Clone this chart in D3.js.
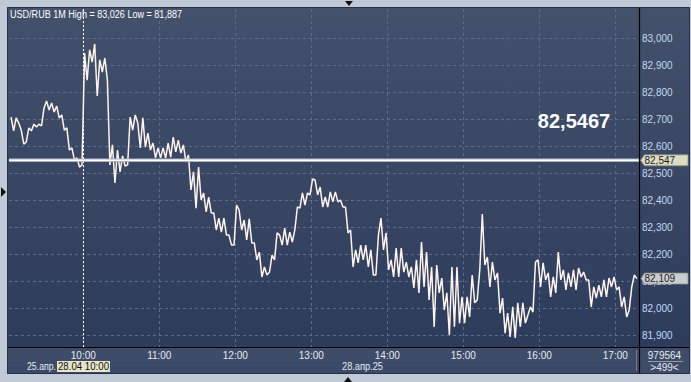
<!DOCTYPE html>
<html><head><meta charset="utf-8">
<script src="https://cdn.jsdelivr.net/npm/d3@7"></script>
<style>html,body{margin:0;padding:0;background:#c0cad6;overflow:hidden}</style>
</head><body><svg id="c" width="691" height="382"></svg>
<script>
// ---------- data ----------
const symbol = "USD/RUB";
const period = "1M";
const highValue = 83.026;
const lowValue = 81.887;
const bigPrice = 82.5467;
const markerPrice = 82.547;
const currentPrice = 82.109;
const sessionDate = "2025-04-28";
const startTime = "09:03";
const stepMinutes = 2;
const closes = [
  82.707, 82.656, 82.704, 82.685, 82.659, 82.607, 82.615, 82.667, 82.656, 82.681,
  82.670, 82.681, 82.674, 82.741, 82.767, 82.733, 82.759, 82.726, 82.748, 82.704,
  82.715, 82.659, 82.667, 82.585, 82.593, 82.548, 82.556, 82.522, 82.530, 82.944,
  82.844, 82.956, 82.911, 82.978, 82.785, 82.919, 82.874, 82.926, 82.844, 82.530,
  82.604, 82.463, 82.585, 82.504, 82.563, 82.526, 82.530, 82.707, 82.659, 82.715,
  82.685, 82.593, 82.704, 82.596, 82.648, 82.585, 82.611, 82.556, 82.593, 82.556,
  82.593, 82.556, 82.611, 82.559, 82.633, 82.578, 82.622, 82.574, 82.604, 82.541,
  82.567, 82.437, 82.504, 82.370, 82.522, 82.400, 82.426, 82.356, 82.411, 82.352,
  82.352, 82.289, 82.333, 82.281, 82.333, 82.270, 82.270, 82.233, 82.233, 82.381,
  82.363, 82.289, 82.326, 82.252, 82.330, 82.241, 82.241, 82.178, 82.207, 82.115,
  82.152, 82.122, 82.133, 82.196, 82.178, 82.278, 82.270, 82.233, 82.296, 82.233,
  82.281, 82.244, 82.289, 82.374, 82.370, 82.426, 82.381, 82.426, 82.419, 82.478,
  82.474, 82.419, 82.448, 82.374, 82.411, 82.374, 82.430, 82.393, 82.430, 82.393,
  82.400, 82.374, 82.374, 82.278, 82.289, 82.152, 82.215, 82.167, 82.233, 82.178,
  82.233, 82.152, 82.215, 82.122, 82.122, 82.270, 82.333, 82.215, 82.278, 82.141,
  82.178, 82.115, 82.222, 82.115, 82.222, 82.133, 82.170, 82.115, 82.152, 82.074,
  82.178, 82.056, 82.244, 82.078, 82.207, 82.030, 82.152, 81.930, 82.159, 82.056,
  82.111, 81.993, 82.056, 81.900, 82.152, 81.930, 82.152, 81.944, 82.041, 81.944,
  82.041, 81.967, 82.122, 82.019, 82.030, 82.141, 82.348, 82.159, 82.189, 82.078,
  82.170, 82.104, 82.130, 81.981, 82.037, 81.907, 81.981, 81.893, 82.004, 81.889,
  82.019, 81.930, 82.019, 81.944, 81.974, 82.004, 81.985, 82.170, 82.178, 82.078,
  82.167, 82.104, 82.130, 82.041, 82.115, 82.056, 82.207, 82.104, 82.141, 82.067,
  82.130, 82.078, 82.141, 82.067, 82.148, 82.115, 82.133, 82.104, 82.104, 82.004,
  82.078, 82.037, 82.085, 82.041, 82.104, 82.041, 82.111, 82.078, 82.115, 82.067,
  82.078, 82.004, 82.041, 81.967, 81.993, 82.078, 82.122, 82.109
];
const yTicks = [83.0, 82.9, 82.8, 82.7, 82.6, 82.5, 82.4, 82.3, 82.2, 82.1, 82.0, 81.9];
const xTicks = ["10:00", "11:00", "12:00", "13:00", "14:00", "15:00", "16:00", "17:00"];
const crosshairTime = "10:00";
const crosshairLabel = "28.04 10:00";
const prevDateLabel = "25.апр.";
const dateLabel = "28.апр.25";
const counterTop = "979564";
const counterBottom = ">499<";

// ---------- layout ----------
const W = 691, H = 382;
const P = {l: 9, r: 639, t: 9, b: 347};
const font = "'Liberation Sans', Arial, sans-serif";
const FS = 10;
const loc = d3.formatLocale({decimal: ",", thousands: " ", grouping: [3], currency: ["", ""]});
const f3 = loc.format(".3f"), f4 = loc.format(".4f");
const parse = d3.timeParse("%Y-%m-%d %H:%M");

const svg = d3.select("#c");
const defs = svg.append("defs");
const g = defs.append("linearGradient").attr("id", "bg").attr("x1", 0).attr("x2", 0).attr("y1", 0).attr("y2", 1);
g.append("stop").attr("offset", "0%").attr("stop-color", "#44516b");
g.append("stop").attr("offset", "100%").attr("stop-color", "#2c3a5b");
defs.append("clipPath").attr("id", "clip").append("rect")
  .attr("x", P.l).attr("y", P.t).attr("width", P.r - P.l).attr("height", P.b - P.t);

svg.append("rect").attr("width", W).attr("height", H).attr("fill", "#c0cad6");
// panel
svg.append("rect").attr("x", 7.5).attr("y", 7.5).attr("width", 682).attr("height", 366)
  .attr("fill", "url(#bg)").attr("stroke", "#27324a");
// bottom axis area
svg.append("rect").attr("x", 8).attr("y", 347).attr("width", 681).attr("height", 26).attr("fill", "#3e4c68");
svg.append("rect").attr("x", 8).attr("y", 361).attr("width", 631).attr("height", 12).attr("fill", "#3b4a69");

// scales
const x = d3.scaleTime()
  .domain([parse(sessionDate + " 10:00"), parse(sessionDate + " 17:00")])
  .range([83.3, 615.3]);
const y = d3.scaleLinear().domain([81.9, 83.0]).range([335, 38]);

// grid
const grid = svg.append("g").attr("stroke", "#5d6c8a").attr("stroke-dasharray", "3,3").attr("stroke-width", 1);
yTicks.forEach(v => {
  const yy = Math.round(y(v)) + 0.5;
  grid.append("line").attr("x1", P.l).attr("x2", P.r).attr("y1", yy).attr("y2", yy);
});
xTicks.forEach(t => {
  const xx = Math.round(x(parse(sessionDate + " " + t))) + 0.5;
  grid.append("line").attr("x1", xx).attr("x2", xx).attr("y1", P.t).attr("y2", P.b);
});

// crosshair
const cx = Math.round(x(parse(sessionDate + " " + crosshairTime))) + 0.5;
svg.append("line").attr("x1", cx).attr("x2", cx).attr("y1", P.t).attr("y2", P.b)
  .attr("stroke", "#ffffff").attr("stroke-dasharray", "2,2").attr("stroke-width", 1);

// series
const t0 = parse(sessionDate + " " + startTime);
const pts = closes.map((v, i) => ({t: new Date(t0.getTime() + i * stepMinutes * 60000), v}));
const line = d3.line().x(d => x(d.t)).y(d => y(d.v));
svg.append("path").datum(pts).attr("clip-path", "url(#clip)")
  .attr("d", line).attr("fill", "none").attr("stroke", "#fff4ee").attr("stroke-width", 1.5)
  .attr("stroke-linejoin", "bevel");

// marker horizontal line
const my = y(markerPrice);
svg.append("line").attr("x1", P.l).attr("x2", P.r).attr("y1", my).attr("y2", my)
  .attr("stroke", "#aeb4c0").attr("stroke-width", 3.4);
svg.append("line").attr("x1", P.l).attr("x2", P.r).attr("y1", my).attr("y2", my)
  .attr("stroke", "#ffffff").attr("stroke-width", 1.6);

// big price
svg.append("text").attr("x", 574).attr("y", 128).attr("text-anchor", "middle")
  .attr("font-family", font).attr("font-weight", "bold").attr("font-size", 20)
  .attr("fill", "#ffffff").text(f4(bigPrice));

// separators
svg.append("line").attr("x1", P.r + 0.5).attr("x2", P.r + 0.5).attr("y1", 8).attr("y2", 373).attr("stroke", "#000").attr("stroke-width", 1.2);
svg.append("line").attr("x1", 8).attr("x2", 689).attr("y1", 347.5).attr("y2", 347.5).attr("stroke", "#000").attr("stroke-width", 1.2);
svg.append("line").attr("x1", 636.5).attr("x2", 636.5).attr("y1", 350).attr("y2", 371).attr("stroke", "#6f7d96");

// y labels
yTicks.forEach(v => {
  svg.append("text").attr("x", 642).attr("y", y(v) + 3.5).attr("font-family", font).attr("font-size", FS)
    .attr("fill", "#c3d8f2").text(f3(v));
});

// price tags
function tag(v, fill, tip, left) {
  const yy = y(v);
  svg.append("path").attr("d", `M${tip},${yy} L${left},${yy - 5.5} L688,${yy - 5.5} L688,${yy + 5.5} L${left},${yy + 5.5} Z`)
    .attr("fill", fill).attr("stroke", "#8a8a78").attr("stroke-width", 0.8);
  svg.append("text").attr("x", left).attr("y", yy + 3.5).attr("font-family", font).attr("font-size", FS)
    .attr("fill", "#1c1c1c").text(f3(v));
}
tag(markerPrice, "#dcdcc4", 640.5, 644.5);
tag(currentPrice, "#c9cdd2", 641, 644.5);

// x labels
xTicks.forEach(t => {
  svg.append("text").attr("x", x(parse(sessionDate + " " + t))).attr("y", 358.5).attr("text-anchor", "middle")
    .attr("font-family", font).attr("font-size", FS).attr("fill", "#e4e9f2").text(t);
});
svg.append("text").attr("x", 27).attr("y", 370).attr("font-family", font).attr("font-size", FS)
  .attr("textLength", 29).attr("lengthAdjust", "spacingAndGlyphs")
  .attr("fill", "#e4e9f2").text(prevDateLabel);
svg.append("rect").attr("x", 57).attr("y", 361).attr("width", 53).attr("height", 11).attr("fill", "#e8e4c8");
svg.append("text").attr("x", 58).attr("y", 370).attr("font-family", font).attr("font-size", FS)
  .attr("textLength", 51).attr("lengthAdjust", "spacingAndGlyphs")
  .attr("fill", "#111").text(crosshairLabel);
svg.append("text").attr("x", 342).attr("y", 370).attr("font-family", font).attr("font-size", FS)
  .attr("textLength", 41).attr("lengthAdjust", "spacingAndGlyphs")
  .attr("fill", "#e4e9f2").text(dateLabel);

// counter cell
svg.append("text").attr("x", 664.5).attr("y", 358.5).attr("text-anchor", "middle").attr("font-family", font)
  .attr("font-size", FS).attr("fill", "#e4e9f2").text(counterTop);
svg.append("line").attr("x1", 648).attr("x2", 683).attr("y1", 361.5).attr("y2", 361.5).attr("stroke", "#8d9ab0");
svg.append("text").attr("x", 664.5).attr("y", 370.5).attr("text-anchor", "middle").attr("font-family", font)
  .attr("font-size", FS).attr("fill", "#e4e9f2").text(counterBottom);

// title
svg.append("text").attr("x", 10).attr("y", 18).attr("font-family", font).attr("font-size", FS)
  .attr("textLength", 172).attr("lengthAdjust", "spacingAndGlyphs")
  .attr("fill", "#ffffff")
  .text(`${symbol} ${period} High = ${f3(highValue)} Low = ${f3(lowValue)}`);

// edge markers
svg.append("path").attr("d", "M345,1 L353,1 L349,6 Z").attr("fill", "#111");
svg.append("path").attr("d", "M1,187 L1,197 L6,192 Z").attr("fill", "#111");
svg.append("path").attr("d", "M344,382 L352,382 L348,377 Z").attr("fill", "#111");
</script></body></html>
